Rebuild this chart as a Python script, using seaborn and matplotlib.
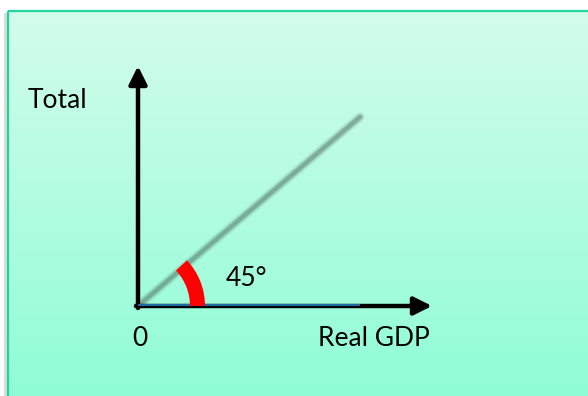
import numpy as np
import pandas as pd
import matplotlib
matplotlib.use("Agg")
import matplotlib.pyplot as plt
from matplotlib.patches import Wedge, Rectangle
import seaborn as sns

# ---- data (diagram units, origin at the axes corner) ----
diag_x = [0, 222]
diag_y = [0, 189]
base_x = [0, 222]
base_y = [0, 0]
angle_label = "45°"
y_label = "Total"
x_label = "Real GDP"
origin_label = "0"

sns.set_theme(style="white")
plt.rcParams['font.family'] = ['Lato', 'DejaVu Sans']

fig = plt.figure(figsize=(5.88, 3.96), dpi=100)
ax = fig.add_axes([0, 0, 1, 1])
ax.set_xlim(-138, 450)
ax.set_ylim(-90, 306)
ax.axis("off")

# background panel with vertical gradient
top = np.array([211, 252, 235]) / 255
bot = np.array([143, 253, 214]) / 255
t = np.linspace(0, 1, 256)[:, None]
grad = top[None, :] * (1 - t) + bot[None, :] * t
grad = np.repeat(grad[:, None, :], 2, axis=1)
ax.imshow(grad, extent=(-130, 452, -92, 295), origin="upper", aspect="auto", zorder=0)
# shadow + border
ax.add_patch(Rectangle((-134, -95), 3, 388, color="#dcdcdc", lw=0, zorder=0.5))
ax.plot([-130, -130], [-95, 295], color="#20d4a0", lw=1.6, zorder=1, solid_capstyle="butt")
ax.plot([-130, 455], [295, 295], color="#20d4a0", lw=1.6, zorder=1, solid_capstyle="butt")

# blurred diagonal line
df = pd.DataFrame({"x": diag_x, "y": diag_y})
for lw, a in [(7, 0.08), (5.5, 0.12), (4, 0.2), (2.8, 0.3)]:
    sns.lineplot(data=df, x="x", y="y", ax=ax, color="#4f6e5e", lw=lw, alpha=a,
                 zorder=2, legend=False, solid_capstyle="round")

# axes arrows
ax.annotate("", xy=(0, 240), xytext=(0, -2),
            arrowprops=dict(arrowstyle="-|>,head_length=0.9,head_width=0.45",
                            lw=3.2, color="black", shrinkA=0, shrinkB=0), zorder=3)
ax.annotate("", xy=(294, 0), xytext=(-2, 0),
            arrowprops=dict(arrowstyle="-|>,head_length=0.9,head_width=0.45",
                            lw=3.2, color="black", shrinkA=0, shrinkB=0), zorder=3)

# blue base line
dfb = pd.DataFrame({"x": base_x, "y": np.array(base_y) + 1.4})
sns.lineplot(data=dfb, x="x", y="y", ax=ax, color="#1f6fa8", lw=1.4, zorder=4,
             legend=False, solid_capstyle="butt")

# red angle arc
ax.add_patch(Wedge((0, 0), 67, 0, 43, width=15, color="#ff0000", lw=0, zorder=5))

# labels
fs = 19
ax.text(-110, 206, y_label, fontsize=fs, ha="left", va="center", color="black")
ax.text(88, 28, angle_label, fontsize=fs, ha="left", va="center", color="black")
ax.text(2, -33, origin_label, fontsize=fs, ha="center", va="center", color="black")
ax.text(292, -33, x_label, fontsize=fs, ha="right", va="center", color="black")

fig.savefig("out.png", dpi=100)
